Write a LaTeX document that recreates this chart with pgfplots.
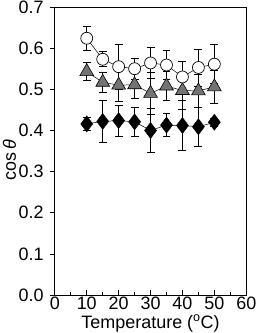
\documentclass[border=0pt]{standalone}
\usepackage{pgfplots}
\pgfplotsset{compat=1.18}
\usepackage{fontspec}
\setmainfont{Liberation Sans}
\begin{document}
\fontsize{18}{21}\selectfont
\begin{tikzpicture}
\path (-55pt,-38pt) rectangle (205pt,296pt);
\begin{axis}[
  at={(0,0)}, anchor=south west,
  scale only axis, width=192pt, height=289pt,
  xmin=0, xmax=60, ymin=0, ymax=0.7,
  xtick={0,10,...,60}, minor xtick={5,15,...,55},
  ytick={0,0.1,...,0.7},
  yticklabels={0.0,0.1,0.2,0.3,0.4,0.5,0.6,0.7},
  axis line style={line width=0.9pt},
  xtick pos=bottom, ytick pos=left,
  xtick align=inside, ytick align=outside,
  major tick length=5pt, minor tick length=3.5pt,
  tick style={black, line width=0.8pt},
  /pgf/number format/assume math mode=true,
  tick label style={font=\fontsize{18}{21}\selectfont},
  label style={font=\fontsize{18}{21}\selectfont},
  xticklabel style={anchor=base, inner sep=0pt, yshift=-14.5pt},
  yticklabel style={inner sep=0pt, xshift=-6pt},
  xlabel={Temperature (\textsuperscript{o}C)},
  ylabel={cos\,\textit{θ}},
  xlabel style={at={(axis description cs:0.5,0)}, anchor=base, inner sep=0pt, yshift=-33pt},
  ylabel style={at={(axis description cs:0,0.467)}, anchor=base, inner sep=0pt, yshift=39pt},
  extra description/.code={\draw[line width=0.9pt] (axis description cs:0,0) rectangle (axis description cs:1,1);},
  clip=false,
]
\addplot[black, line width=0.5pt, mark=diamond*, mark size=8pt,
  mark options={fill=black},
  error bars/.cd, y dir=both, y explicit,
  error bar style={line width=0.7pt},
  error mark options={rotate=90, mark size=4pt, line width=0.7pt}]
  coordinates {
  (10,0.416) +- (0,0.015)
  (15,0.422) +- (0,0.050)
  (20,0.424) +- (0,0.038)
  (25,0.421) +- (0,0.035)
  (30,0.400) +- (0,0.053)
  (35,0.413) +- (0,0.028)
  (40,0.412) +- (0,0.060)
  (45,0.409) +- (0,0.047)
  (50,0.420) +- (0,0.010)
  };
\addplot[black, line width=0.5pt, mark=triangle*, mark size=8pt,
  mark options={fill=black!55, line width=0.6pt},
  error bars/.cd, y dir=both, y explicit,
  error bar style={line width=0.7pt},
  error mark options={rotate=90, mark size=4pt, line width=0.7pt}]
  coordinates {
  (10,0.543) +- (0,0.022)
  (15,0.517) +- (0,0.025)
  (20,0.510) +- (0,0.040)
  (25,0.511) +- (0,0.032)
  (30,0.490) +- (0,0.050)
  (35,0.508) +- (0,0.035)
  (40,0.497) +- (0,0.045)
  (45,0.496) +- (0,0.040)
  (50,0.506) +- (0,0.040)
  };
\addplot[black, line width=0.5pt, mark=*, mark size=6pt,
  mark options={fill=white, line width=0.7pt},
  error bars/.cd, y dir=both, y explicit,
  error bar style={line width=0.7pt},
  error mark options={rotate=90, mark size=4pt, line width=0.7pt}]
  coordinates {
  (10,0.624) +- (0,0.030)
  (15,0.573) +- (0,0.018)
  (20,0.555) +- (0,0.055)
  (25,0.550) +- (0,0.025)
  (30,0.564) +- (0,0.037)
  (35,0.559) +- (0,0.036)
  (40,0.530) +- (0,0.037)
  (45,0.553) +- (0,0.045)
  (50,0.561) +- (0,0.047)
  };
\end{axis}
\end{tikzpicture}
\end{document}
